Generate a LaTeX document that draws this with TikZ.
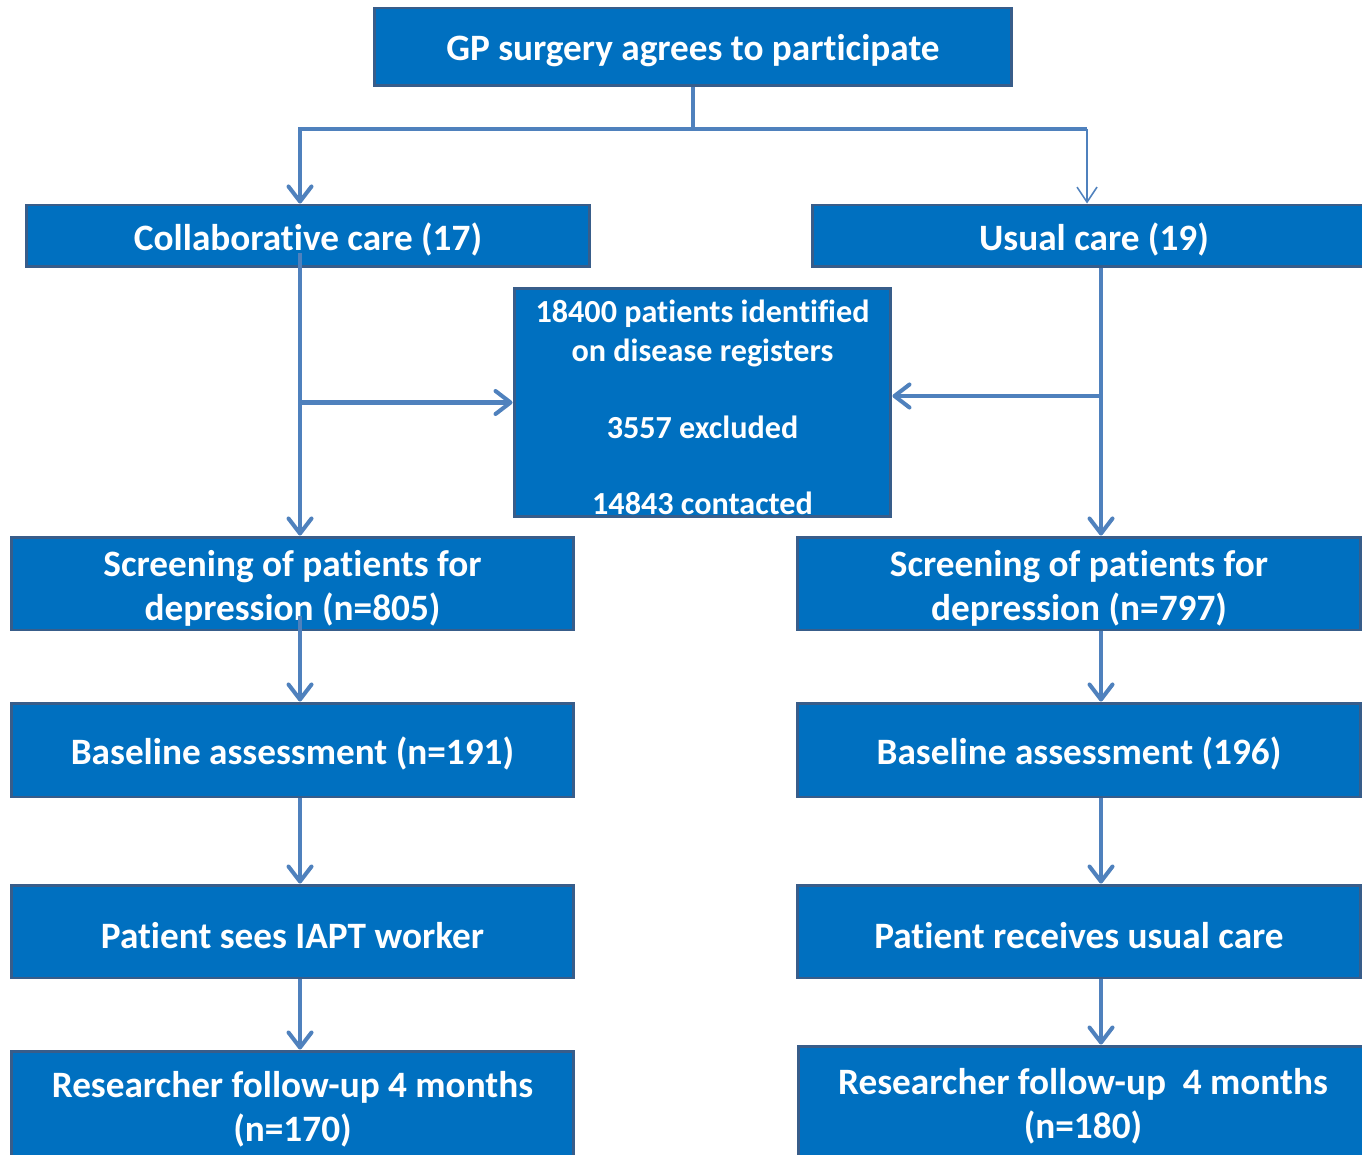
\documentclass[tikz,border=0pt]{standalone}
\usepackage{fontspec}
\setmainfont{Carlito}[Ligatures=NoCommon]
\usetikzlibrary{calc,arrows.meta}

\definecolor{boxblue}{HTML}{0070C0}
\definecolor{boxedge}{HTML}{385D8A}
\definecolor{linkblue}{HTML}{4F81BD}

\begin{document}
\begin{tikzpicture}[x=0.02cm, y=-0.02cm,
	textdrop/.style={execute at begin node={\rule{0pt}{#1}}},
	box/.style={draw=boxedge, fill=boxblue, line width=1.7pt, text=white,
		font=\fontsize{21.2}{25.2}\selectfont\bfseries, align=center,
		inner sep=0pt, minimum width=11.25cm, textdrop=19.5pt},
	regbox/.style={box, font=\fontsize{18.3}{21.8}\selectfont\bfseries,
		minimum width=7.54cm, minimum height=4.58cm, textdrop=128pt},
	connline/.style={draw=linkblue, line width=2.3pt},
	connarrow/.style={connline, -{Straight Barb[length=0.3cm, width=0.46cm, round]}},
	thinarrow/.style={draw=linkblue, line width=0.9pt,
		-{Straight Barb[length=0.3cm, width=0.4cm]}}]

% frame %{{{2

	\useasboundingbox (0,0) rectangle (1362,1155);

% columns %{{{2

	\coordinate (lx) at (300,0);
	\coordinate (rx) at (1101,0);
	\coordinate (tx) at (1087,0);
	\coordinate (split) at (693,129);

% boxes %{{{2

	\node[box, minimum width=12.76cm, minimum height=1.56cm] (gp) at (693,47)
		{GP surgery agrees to participate};

	\node[box, minimum height=1.24cm] (cc) at (308,236) {Collaborative care (17)};
	\node[box, minimum height=1.24cm] (uc) at (1094,236) {Usual care (19)};

	\node[regbox] (reg) at (702.5,402.5)
		{18400 patients identified\\on disease registers\\[0.77cm]3557 excluded\\[0.77cm]14843 contacted};

	\node[box, minimum height=1.86cm, textdrop=45.5pt] (scl) at (292.5,583.5)
		{Screening of patients for\\depression (n=805)};
	\node[box, minimum height=1.86cm, textdrop=45.5pt] (scr) at (1079,583.5)
		{Screening of patients for\\depression (n=797)};

	\node[box, minimum height=1.88cm] (bal) at (292.5,750) {Baseline assessment (n=191)};
	\node[box, minimum height=1.88cm] (bar) at (1079,750) {Baseline assessment (196)};

	\node[box, minimum height=1.86cm] (psl) at (292.5,931.5) {Patient sees IAPT worker};
	\node[box, minimum height=1.86cm] (psr) at (1079,931.5) {Patient receives usual care};

	\node[box, minimum height=2.22cm, textdrop=43pt] (rfl) at (292.5,1106.5)
		{Researcher follow-up 4 months\\(n=170)};
	\node[box, minimum width=11.4cm, minimum height=2.3cm, textdrop=43pt] (rfr) at (1083,1103.5)
		{Researcher follow-up~~4 months\\(n=180)};

% top split %{{{2

	\draw[connline] (gp.south) -- (split);
	\draw[connarrow] (split) -| (cc.north -| lx);
	\draw[connline] (split) -- (split -| tx);
	\draw[thinarrow] (split -| tx) -- (uc.north -| tx);

% left column %{{{2

	\draw[connarrow] ($(cc.south -| lx)+(0,-15)$) -- (scl.north -| lx);
	\draw[connarrow] (reg.west -| lx) -- (reg.west);
	\draw[connarrow] ($(scl.south -| lx)+(0,-15)$) -- (bal.north -| lx);
	\draw[connarrow] (bal.south -| lx) -- (psl.north -| lx);
	\draw[connarrow] (psl.south -| lx) -- (rfl.north -| lx);

% right column %{{{2

	\coordinate (regin) at ($(reg.east)+(0,-6.5)$);

	\draw[connarrow] (uc.south -| rx) -- (scr.north -| rx);
	\draw[connarrow] (regin -| rx) -- (regin);
	\draw[connarrow] (scr.south -| rx) -- (bar.north -| rx);
	\draw[connarrow] (bar.south -| rx) -- (psr.north -| rx);
	\draw[connarrow] (psr.south -| rx) -- (rfr.north -| rx);

% closing %{{{2

\end{tikzpicture}
\end{document}
